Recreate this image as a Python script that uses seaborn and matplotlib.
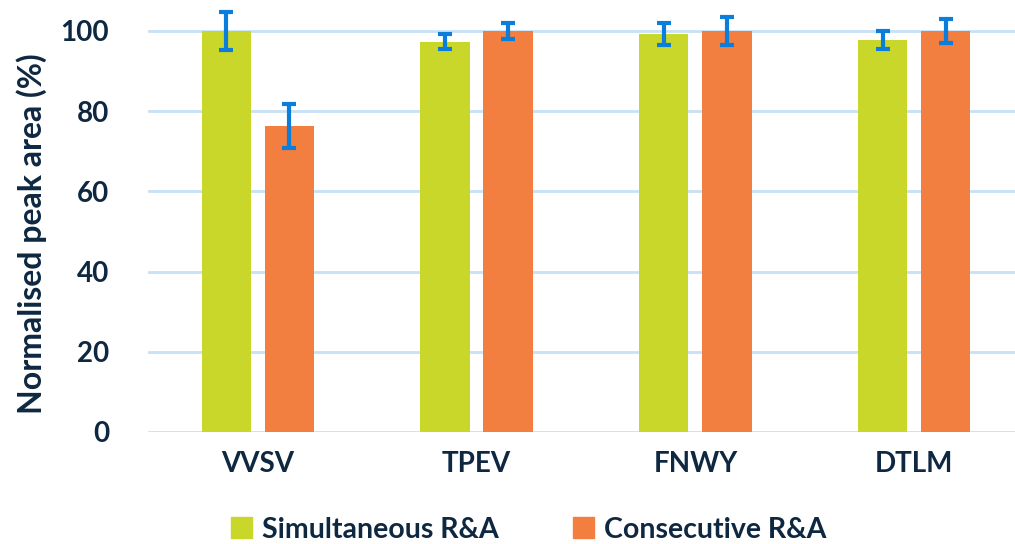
import numpy as np
import pandas as pd
import matplotlib
matplotlib.use('Agg')
import matplotlib.pyplot as plt
import seaborn as sns

# Values
peptides = ['VVSV', 'TPEV', 'FNWY', 'DTLM']
methods = ['Simultaneous R&A', 'Consecutive R&A']
simultaneous = [100.0, 97.3, 99.3, 97.8]
consecutive = [76.3, 100.0, 100.0, 100.0]
simultaneous_err = [4.7, 1.9, 2.7, 2.2]
consecutive_err = [5.6, 2.0, 3.4, 3.0]

text_color = '#0e2841'
colors = ['#c9d72a', '#f27e3f']
err_color = '#0b7ddb'
grid_color = '#c8e1f7'

data = pd.DataFrame({
    'Peptide': peptides * 2,
    'Method': [methods[0]] * 4 + [methods[1]] * 4,
    'Area': simultaneous + consecutive,
    'Err': simultaneous_err + consecutive_err,
})

sns.set_theme(style='white')
plt.rcParams['font.family'] = ['Lato', 'DejaVu Sans']
plt.rcParams['font.weight'] = 'bold'

fig = plt.figure(figsize=(10.15, 5.44), dpi=100)
ax = fig.add_axes([0.146, 0.206, 0.854, 0.774])

sns.barplot(data=data, x='Peptide', y='Area', hue='Method', order=peptides,
            hue_order=methods, palette=colors, saturation=1, width=0.576, gap=0.22,
            errorbar=None, linewidth=0, ax=ax, legend=True)

# error bars at the centre of each bar
for container, method in zip(ax.containers, methods):
    sub = data[data['Method'] == method].set_index('Peptide').loc[peptides]
    xs = [p.get_x() + p.get_width() / 2 for p in container.patches]
    ax.errorbar(xs, sub['Area'], yerr=sub['Err'], fmt='none', ecolor=err_color,
                elinewidth=3, capsize=5, capthick=3, clip_on=False, zorder=5)

ax.set_ylim(0, 105)
ax.set_xlim(-0.5, 3.46)
ax.set_yticks([0, 20, 40, 60, 80, 100])
ax.yaxis.grid(True, color=grid_color, linewidth=2)
ax.set_axisbelow(True)
for s in ax.spines.values():
    s.set_visible(False)
ax.tick_params(axis='both', length=0, labelsize=20, labelcolor=text_color, pad=14)
ax.tick_params(axis='y', pad=28)
for lab in ax.get_xticklabels() + ax.get_yticklabels():
    lab.set_fontweight('bold')
ax.set_xlabel('')
ax.set_ylabel('Normalised peak area (%)', fontsize=23, fontweight='bold',
              color=text_color, labelpad=10)
ax.yaxis.set_label_coords(-0.117, 0.47)

ax.legend_.remove()
handles = [plt.Rectangle((0, 0), 1, 1, color=c) for c in colors]
leg = fig.legend(handles, methods, loc='lower center', bbox_to_anchor=(0.521, -0.045),
                 ncol=2, frameon=False, fontsize=20.5, handlelength=0.75,
                 handleheight=0.75, handletextpad=0.35, columnspacing=2.6)
for t in leg.get_texts():
    t.set_color(text_color)
    t.set_fontweight('bold')

fig.savefig('out.png', dpi=100)
